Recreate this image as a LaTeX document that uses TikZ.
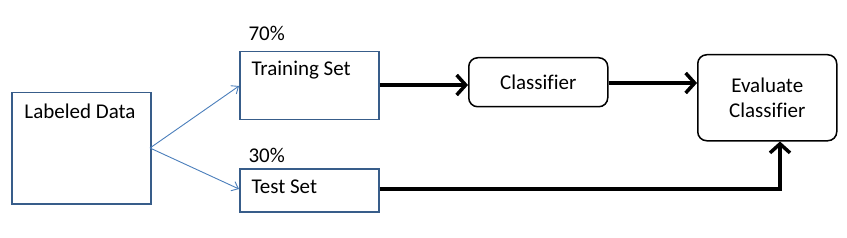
\documentclass[tikz,border=0pt]{standalone}
\usepackage{fontspec}
\setmainfont{Carlito}[Ligatures=NoCommon]
\usetikzlibrary{arrows.meta}
\definecolor{boxblue}{HTML}{385D8A}
\definecolor{arrowblue}{HTML}{4A7EBB}
\begin{document}
\begin{tikzpicture}[x=1pt,y=-1pt,
  every node/.style={font=\fontsize{21}{25}\selectfont},
  sqbox/.style={draw=boxblue,line width=1.5pt,fill=white,inner sep=0pt},
  rbox/.style={draw=black,line width=1.5pt,rounded corners=9pt,fill=white,inner sep=0pt,align=center},
  thin/.style={draw=arrowblue,line width=0.9pt,-{Straight Barb[length=6pt,width=10pt]}},
  thick/.style={draw=black,line width=3.5pt,-{Straight Barb[length=9pt,width=20pt,line width=3.5pt]}}
]
\useasboundingbox (0,0) rectangle (847,238);
\node[sqbox,minimum width=139pt,minimum height=111pt,anchor=north west] (ld) at (11,92) {};
\node at (80,111) {Labeled Data};
\node[sqbox,minimum width=139pt,minimum height=68pt,anchor=north west] (tr) at (239,51) {};
\node[anchor=west] (trt) at (248,70) {Training Set};
\node[anchor=west] (p70) at (245,33) {70\%};
\node[sqbox,minimum width=139pt,minimum height=43pt,anchor=north west] (te) at (239,168) {};
\node[anchor=west] (tet) at (248,187) {Test Set};
\node[anchor=west] (p30) at (245,155) {30\%};
\node[rbox,minimum width=139pt,minimum height=49pt,anchor=north west] (cl) at (468,57) {Classifier};
\node[rbox,minimum width=139pt,minimum height=86pt,anchor=north west] (ev) at (697,54) {Evaluate\\Classifier};
\coordinate (src) at (150,148);
\coordinate (corner) at (780,189);
\draw[thin] (src) -- (tr.west |- 0,86);
\draw[thin] (src) -- (te.west |- 0,189);
\draw[thick] (tr.east |- 0,85) -- (cl.west |- 0,85);
\draw[thick] (cl.east |- 0,83) -- (ev.west |- 0,83);
\draw[thick,line join=miter] (te.east |- corner) -- (corner) -- (ev.south -| corner);
\end{tikzpicture}
\end{document}
